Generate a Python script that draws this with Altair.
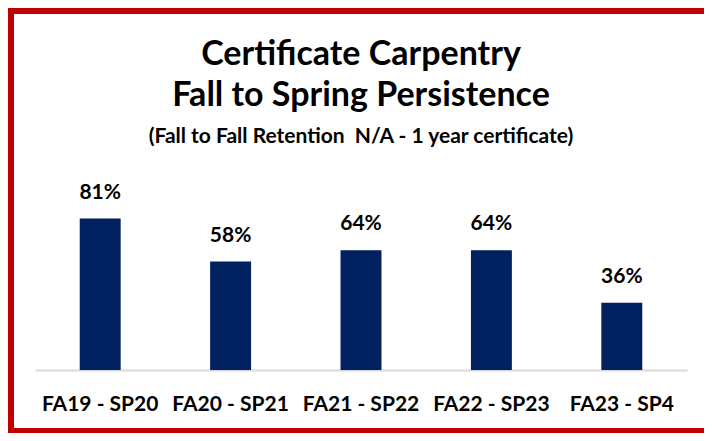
import altair as alt
import pandas as pd

categories = ["FA19 - SP20", "FA20 - SP21", "FA21 - SP22", "FA22 - SP23", "FA23 - SP4"]
values = [81, 58, 64, 64, 36]
labels = ["81%", "58%", "64%", "64%", "36%"]

title_line1 = "Certificate Carpentry"
title_line2 = "Fall to Spring Persistence"
subtitle = "(Fall to Fall Retention\u00a0 N/A - 1 year certificate)"

df = pd.DataFrame({"cat": categories, "val": values, "lab": labels})

FONT = "Lato"
NAVY = "#002060"
RED = "#C00000"

base = alt.Chart(df)

x = alt.X("cat:N", sort=categories,
          scale=alt.Scale(paddingInner=0.686, paddingOuter=0.343),
          axis=alt.Axis(title=None, labelAngle=0, labelFont=FONT, labelFontSize=21,
                        labelFontWeight="bold", labelColor="#000000", labelPadding=23,
                        ticks=False, domainColor="#D9D9D9", domainWidth=2))
y = alt.Y("val:Q", scale=alt.Scale(domain=[0, 100]), axis=None)

bars = base.mark_bar(color=NAVY).encode(x=x, y=y)

texts = base.mark_text(font=FONT, fontSize=21, fontWeight="bold", color="#000000",
                       baseline="bottom", dy=-16).encode(x=x, y=y, text="lab:N")

border = alt.Chart(pd.DataFrame({"k": [0]})).mark_rect(
    fill=None, stroke=RED, strokeWidth=6
).encode(x=alt.value(-24), x2=alt.value(700), y=alt.value(-172), y2=alt.value(248))

t1 = alt.Chart(pd.DataFrame({"t": [title_line1]})).mark_text(
    font=FONT, fontSize=34, fontWeight="bold", color="#000000", baseline="alphabetic"
).encode(text="t:N", x=alt.value(326), y=alt.value(-118))
t2 = alt.Chart(pd.DataFrame({"t": [title_line2]})).mark_text(
    font=FONT, fontSize=34, fontWeight="bold", color="#000000", baseline="alphabetic"
).encode(text="t:N", x=alt.value(326), y=alt.value(-77))
t3 = alt.Chart(pd.DataFrame({"t": [subtitle]})).mark_text(
    font=FONT, fontSize=21, fontWeight="bold", color="#000000", baseline="alphabetic"
).encode(text="t:N", x=alt.value(326), y=alt.value(-40))

chart = alt.layer(border, bars, texts, t1, t2, t3).properties(
    width=652, height=187,
    autosize=alt.AutoSizeParams(type="none"),
    padding={"left": 27, "top": 175, "right": 17, "bottom": 63},
).configure(background="#FFFFFF").configure_view(stroke=None)

chart.save("out.html", embed_options={"renderer": "svg", "actions": False})
